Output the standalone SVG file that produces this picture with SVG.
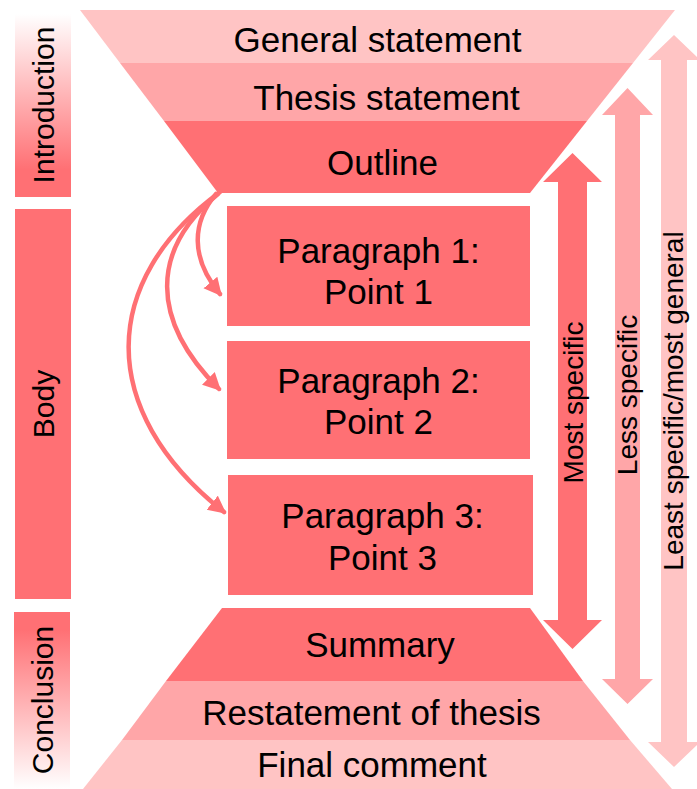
<svg xmlns="http://www.w3.org/2000/svg" width="697" height="789" viewBox="0 0 697 789">
<style>
.dark{fill:#FF7074}
.mid{fill:#FFA6A8}
.light{fill:#FFC4C4}
.t{font-family:"Liberation Sans",Arial,sans-serif;fill:#000}
.h{font-size:35px;text-anchor:middle}
.side{font-size:30px;text-anchor:middle}
.rs{font-size:28px;text-anchor:middle}
.conn{fill:none;stroke:#FF7074;stroke-width:4.5;stroke-linecap:round}
</style>
<defs>
<linearGradient id="gIntro" x1="0" y1="0" x2="0" y2="1">
<stop offset="0" stop-color="#FFFFFF"/>
<stop offset="0.85" stop-color="#FF7074"/>
<stop offset="1" stop-color="#FF7074"/>
</linearGradient>
<linearGradient id="gConc" x1="0" y1="0" x2="0" y2="1">
<stop offset="0" stop-color="#FF7074"/>
<stop offset="0.1" stop-color="#FF7074"/>
<stop offset="1" stop-color="#FFFFFF"/>
</linearGradient>
<marker id="ah" markerUnits="userSpaceOnUse" markerWidth="20" markerHeight="20" refX="15" refY="9" orient="auto">
<path d="M0,0 L18,9 L0,18 Z" fill="#FF7074"/>
</marker>
</defs>

<g id="introduction">
<rect x="15" y="14" width="56" height="183" fill="url(#gIntro)"/>
<text class="t side" transform="translate(54,105) rotate(-90)">Introduction</text>
</g>
<g id="body">
<rect x="15" y="209" width="56" height="390" class="dark"/>
<text class="t side" transform="translate(54,404) rotate(-90)">Body</text>
</g>
<g id="conclusion">
<rect x="14" y="612" width="56" height="177" fill="url(#gConc)"/>
<text class="t side" transform="translate(53,700) rotate(-90)">Conclusion</text>
</g>

<g id="general-statement">
<polygon class="light" points="80,10 675,10 633,63 120,63"/>
<text class="t h" x="377.5" y="52">General statement</text>
</g>
<g id="thesis-statement">
<polygon class="mid" points="120,63 633,63 587,121 164,121"/>
<text class="t h" x="386.5" y="110">Thesis statement</text>
</g>
<g id="outline">
<polygon class="dark" points="164,121 587,121 530,193 218,193"/>
<text class="t h" x="382.5" y="175">Outline</text>
</g>

<g id="paragraph1">
<rect x="227" y="206" width="303" height="120" class="dark"/>
<text class="t h" x="378.5" y="263">Paragraph 1:</text>
<text class="t h" x="378.5" y="304">Point 1</text>
</g>
<g id="paragraph2">
<rect x="227" y="341" width="303" height="118" class="dark"/>
<text class="t h" x="378.5" y="393">Paragraph 2:</text>
<text class="t h" x="378.5" y="434">Point 2</text>
</g>
<g id="paragraph3">
<rect x="228" y="475" width="305" height="120" class="dark"/>
<text class="t h" x="382.5" y="528">Paragraph 3:</text>
<text class="t h" x="382.5" y="570">Point 3</text>
</g>

<g id="summary">
<polygon class="dark" points="222,608 530,608 583,681 166,681"/>
<text class="t h" x="380" y="657">Summary</text>
</g>
<g id="restatement">
<polygon class="mid" points="166,681 583,681 630,740 122,740"/>
<text class="t h" x="371.5" y="725">Restatement of thesis</text>
</g>
<g id="final-comment">
<polygon class="light" points="122,740 630,740 672,789 83,789"/>
<text class="t h" x="372" y="777">Final comment</text>
</g>

<g id="most-specific">
<polygon class="dark" points="572.5,153 602,182 587,182 587,620 602,620 572.5,649 543,620 558,620 558,182 543,182"/>
<text class="t rs" transform="translate(583,402.5) rotate(-90)">Most specific</text>
</g>
<g id="less-specific">
<polygon class="mid" points="627.5,88 653,115 640,115 640,679 653,679 627.5,704 602,679 615,679 615,115 602,115"/>
<text class="t rs" transform="translate(637,395) rotate(-90)">Less specific</text>
</g>
<g id="least-specific">
<polygon class="light" points="674,35 700,60 687,60 687,742 700,742 674,767 648,742 661,742 661,60 648,60"/>
<text class="t rs" transform="translate(683,401) rotate(-90)">Least specific/most general</text>
</g>

<g id="connectors">
<path class="conn" d="M216,194 C192,222 190,258 220,294" marker-end="url(#ah)"/>
<path class="conn" d="M218,194 C150,250 150,320 219,389" marker-end="url(#ah)"/>
<path class="conn" d="M220,192 C100,280 95,410 224,512" marker-end="url(#ah)"/>
</g>
</svg>
